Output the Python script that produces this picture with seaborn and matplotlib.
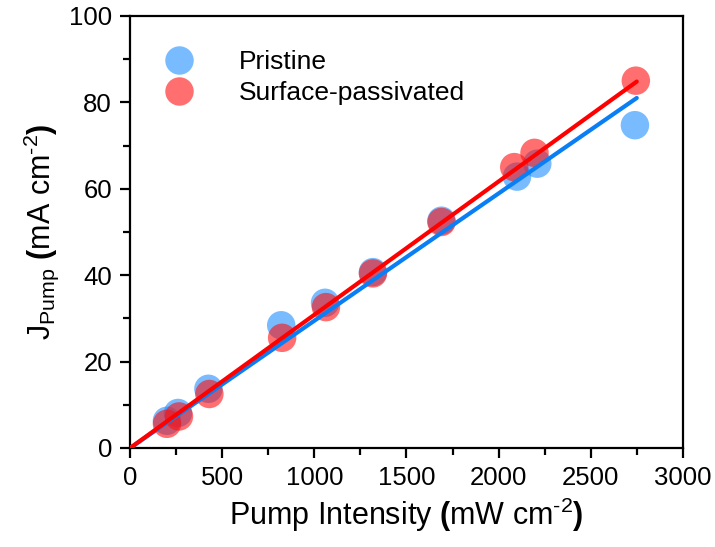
import numpy as np
import pandas as pd
import matplotlib
matplotlib.use("Agg")
import matplotlib.pyplot as plt
import seaborn as sns
from matplotlib.ticker import MultipleLocator

# ---- data ----
pristine_x = [200, 260, 425, 820, 1058, 1318, 1690, 2100, 2210, 2740]
pristine_y = [6.3, 8.1, 13.7, 28.4, 33.6, 40.7, 52.6, 62.8, 65.8, 74.7]
passiv_x = [200, 265, 430, 825, 1063, 1318, 1690, 2085, 2195, 2745]
passiv_y = [5.6, 7.3, 12.5, 25.5, 32.6, 40.4, 52.3, 65.0, 68.3, 85.0]
fit_x = [0, 2750]
pristine_fit = [0, 81.0]
passiv_fit = [0, 84.8]
labels = ["Pristine", "Surface-passivated"]

sns.set_theme(style="ticks")
plt.rcParams['font.family'] = ['Liberation Sans', 'DejaVu Sans']
plt.rcParams['mathtext.fontset'] = 'custom'
plt.rcParams['mathtext.rm'] = 'Liberation Sans'
plt.rcParams['mathtext.it'] = 'Liberation Sans:italic'
plt.rcParams['mathtext.bf'] = 'Liberation Sans:bold'
plt.rcParams['text.color'] = 'black'
plt.rcParams['axes.labelcolor'] = 'black'
plt.rcParams['xtick.color'] = 'black'
plt.rcParams['ytick.color'] = 'black'
plt.rcParams['xtick.labelcolor'] = 'black'
plt.rcParams['ytick.labelcolor'] = 'black'

df = pd.DataFrame({
    "x": pristine_x + passiv_x,
    "y": pristine_y + passiv_y,
    "sample": [labels[0]] * len(pristine_x) + [labels[1]] * len(passiv_x),
})
fit_df = pd.DataFrame({
    "x": fit_x + fit_x,
    "y": pristine_fit + passiv_fit,
    "sample": [labels[0]] * 2 + [labels[1]] * 2,
})

fig = plt.figure(figsize=(7.15, 5.47), dpi=100)
ax = fig.add_axes([0.182, 0.181, 0.773, 0.790])

pt_colors = {labels[0]: "#1E90FF", labels[1]: "#FF1010"}
sns.scatterplot(data=df, x="x", y="y", hue="sample", palette=pt_colors,
                s=420, alpha=0.6, edgecolor="none", ax=ax, zorder=2,
                legend=True)
line_colors = {labels[0]: "#0A7FF5", labels[1]: "#FF0000"}
sns.lineplot(data=fit_df, x="x", y="y", hue="sample", palette=line_colors,
             linewidth=3.0, ax=ax, legend=False, zorder=3, sort=False)

ax.set_xlim(0, 3000)
ax.set_ylim(0, 100)
ax.xaxis.set_major_locator(MultipleLocator(500))
ax.xaxis.set_minor_locator(MultipleLocator(250))
ax.yaxis.set_major_locator(MultipleLocator(20))
ax.yaxis.set_minor_locator(MultipleLocator(10))

for sp in ax.spines.values():
    sp.set_linewidth(1.6)
    sp.set_color("black")
ax.tick_params(axis="both", which="major", direction="out", length=7, width=1.6,
               labelsize=18.5, color="black", labelcolor="black", pad=6)
ax.tick_params(axis="both", which="minor", direction="out", length=5, width=1.6,
               color="black")
ax.tick_params(top=False, right=False, which="both")

hy = "\u2010"
ax.set_xlabel("Pump Intensity $\\mathbf{(}$mW cm$^{\\mathrm{" + hy + "2}}$$\\mathbf{)}$",
              fontsize=22, labelpad=4, color="black")
ax.set_ylabel("J$_{\\mathrm{Pump}}$ $\\mathbf{(}$mA cm$^{\\mathrm{" + hy + "2}}$$\\mathbf{)}$",
              fontsize=22, labelpad=6, color="black")

leg = ax.legend(loc="upper left", frameon=False, fontsize=19, handletextpad=1.25,
                labelspacing=0.25, borderaxespad=0.0, bbox_to_anchor=(0.022, 0.945),
                markerscale=1.0)
for t in leg.get_texts():
    t.set_color("black")

fig.savefig("out.png", dpi=100)
